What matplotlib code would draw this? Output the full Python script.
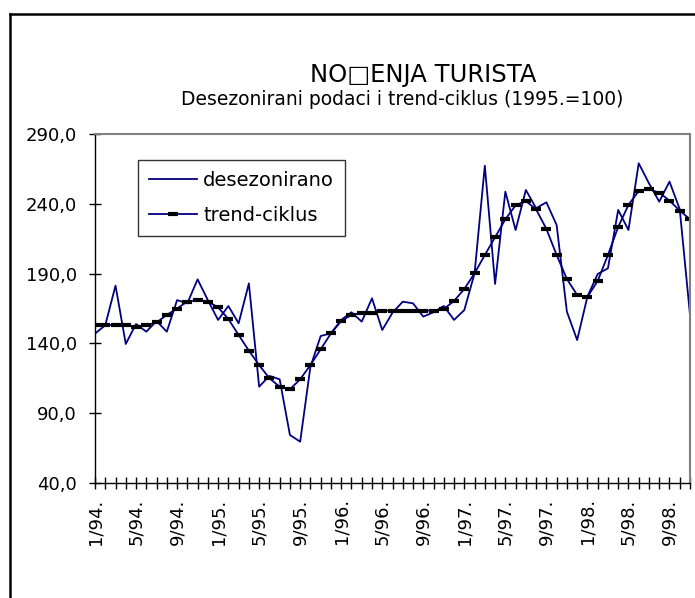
import numpy as np
import matplotlib
matplotlib.use("Agg")
import matplotlib.pyplot as plt
from matplotlib.lines import Line2D

# Monthly data 1/94 - 11/98
desezonirano = [147, 153, 181.4, 139.6, 153.9, 148.4, 156, 148.4, 171, 168.7,
                185.9, 171, 156.8, 166.8, 154.4, 183, 109, 116.7, 114.3, 74.4,
                69.6, 123.3, 145.3, 147.2, 156.8, 162.3, 155.6, 172.3, 149.6, 162,
                169.9, 168.7, 159.2, 162.3, 166.8, 156.8, 163.9, 190.2, 267.3, 182.6,
                248.7, 221.2, 249.9, 236.8, 241.1, 224.8, 162.7, 142.4, 173.5, 189.7,
                193.8, 235.6, 221.2, 269, 254.7, 241.5, 255.9, 236.1, 160.4]
trend_ciklus = [153.2, 153.2, 153.2, 153.2, 152, 153, 155, 160.4, 165, 170,
                171, 170, 165.8, 157.5, 146, 134.8, 124.5, 115, 109, 107.1,
                114.3, 124.5, 135.8, 147.2, 156, 160.4, 162, 162, 163.5, 163.5,
                163.5, 163.5, 163.5, 163.5, 164.7, 170.4, 179, 190.2, 203.3, 216,
                228.9, 238.9, 242, 236, 222, 203.3, 186.1, 174.7, 173.3, 184.7,
                203.3, 223.4, 239.2, 249.2, 250.4, 248, 242.3, 235.1, 228.9]
years = [94, 95, 96, 97, 98]
label_months = [1, 5, 9]
y_ticks = [40, 90, 140, 190, 240, 290]

W, H = 695, 598
navy = "#000080"

fig = plt.figure(figsize=(W / 100, H / 100), dpi=100)
ax = fig.add_axes([95 / W, 1 - 483 / H, 595 / W, 349 / H])

x = np.arange(len(desezonirano))
ax.plot(x, desezonirano, color=navy, lw=1.3, label="desezonirano")
ax.plot(x, trend_ciklus, color=navy, lw=1.3, marker="_", ms=7, mew=3,
        mec="black", mfc="black", label="trend-ciklus")

ax.set_xlim(0, len(desezonirano) - 1)
ax.set_ylim(40, 290)
ax.set_yticks(y_ticks)
ax.set_yticklabels([f"{v:.1f}".replace(".", ",") for v in y_ticks])

# one tick per month, labels every 4th month
ax.set_xticks(x)
labels = []
for yy in years:
    for m in range(1, 13):
        labels.append(f"{m}/{yy}." if m in label_months else "")
ax.set_xticklabels(labels[:len(x)], rotation=90)

ax.tick_params(axis="both", direction="inout", length=8, width=1, colors="black",
               labelsize=13, pad=7)
ax.tick_params(axis="y", pad=9)

for s in ["left", "bottom"]:
    ax.spines[s].set_color("black")
    ax.spines[s].set_linewidth(1)
for s in ["top", "right"]:
    ax.spines[s].set_color("#808080")
    ax.spines[s].set_linewidth(1.5)

leg = fig.legend(loc="upper left", bbox_to_anchor=(138 / W, 1 - 160 / H),
                 fontsize=14, frameon=True, fancybox=False, edgecolor="black",
                 handlelength=2.5, handletextpad=0.3, labelspacing=0.85,
                 borderpad=0.55, borderaxespad=0, numpoints=1)
leg.get_frame().set_linewidth(1)

fig.text(423 / W, 1 - 82 / H, "NO\u25a1ENJA TURISTA", ha="center", va="baseline",
         fontsize=17.5)
fig.text(402 / W, 1 - 105 / H, "Desezonirani podaci i trend-ciklus (1995.=100)",
         ha="center", va="baseline", fontsize=13.5)

# outer chart frame
fig.add_artist(Line2D([10 / W, 10 / W], [0, 1 - 14 / H], transform=fig.transFigure,
                      color="black", lw=1.8))
fig.add_artist(Line2D([10 / W, 1], [1 - 14 / H, 1 - 14 / H], transform=fig.transFigure,
                      color="black", lw=1.8))

fig.savefig("out.png", dpi=100)
